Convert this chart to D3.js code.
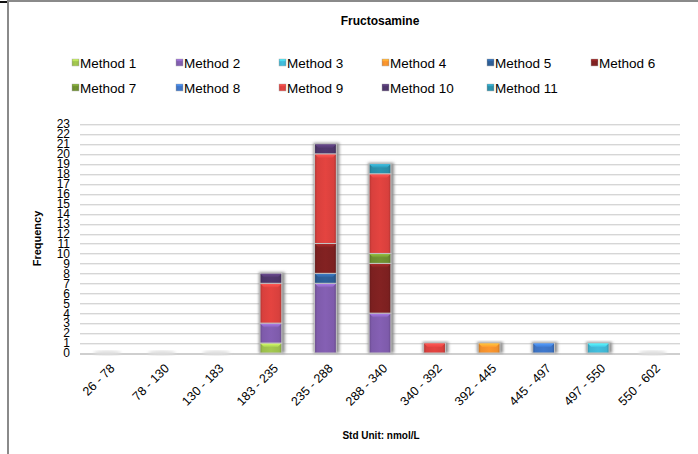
<!DOCTYPE html>
<html>
<head>
<meta charset="utf-8">
<script src="https://cdn.jsdelivr.net/npm/d3@7/dist/d3.min.js"></script>
<style>
  html, body { margin: 0; padding: 0; background: #fff; }
  svg { display: block; font-family: "Liberation Sans", Arial, sans-serif; }
</style>
</head>
<body>
<svg id="chart" width="698" height="454"></svg>
<script>
// Histogram bins (Std Unit: nmol/L)
const categories = ["26 - 78", "78 - 130", "130 - 183", "183 - 235", "235 - 288", "288 - 340",
                    "340 - 392", "392 - 445", "445 - 497", "497 - 550", "550 - 602"];

// Frequency per method in each bin
const method1  = [0, 0, 0, 1, 0, 0, 0, 0, 0, 0, 0];
const method2  = [0, 0, 0, 2, 7, 4, 0, 0, 0, 0, 0];
const method3  = [0, 0, 0, 0, 0, 0, 0, 0, 0, 1, 0];
const method4  = [0, 0, 0, 0, 0, 0, 0, 1, 0, 0, 0];
const method5  = [0, 0, 0, 0, 1, 0, 0, 0, 0, 0, 0];
const method6  = [0, 0, 0, 0, 3, 5, 0, 0, 0, 0, 0];
const method7  = [0, 0, 0, 0, 0, 1, 0, 0, 0, 0, 0];
const method8  = [0, 0, 0, 0, 0, 0, 0, 0, 1, 0, 0];
const method9  = [0, 0, 0, 4, 9, 8, 1, 0, 0, 0, 0];
const method10 = [0, 0, 0, 1, 1, 0, 0, 0, 0, 0, 0];
const method11 = [0, 0, 0, 0, 0, 1, 0, 0, 0, 0, 0];

const methodNames = ["Method 1", "Method 2", "Method 3", "Method 4", "Method 5", "Method 6",
                     "Method 7", "Method 8", "Method 9", "Method 10", "Method 11"];
const methodValues = [method1, method2, method3, method4, method5, method6,
                      method7, method8, method9, method10, method11];
const methodColors = ["#9bbf4c", "#7e5bab", "#3fb5d2", "#f08f2c", "#2c5b92", "#7c2020",
                      "#6b8b2f", "#3c72c2", "#d8403d", "#4c3568", "#2a8ca6"];

const yTicks = d3.range(0, 24);

const svg = d3.select("#chart");
const W = 698, H = 454;
const plot = { left: 80, right: 680, top: 124, bottom: 353 };

// frame lines
svg.append("line").attr("x1", 8).attr("x2", W).attr("y1", 1).attr("y2", 1)
  .attr("stroke", "#8a8a8a").attr("stroke-width", 2);
svg.append("line").attr("x1", 0).attr("x2", 8).attr("y1", 2).attr("y2", 2)
  .attr("stroke", "#111").attr("stroke-width", 2);
svg.append("line").attr("x1", 8).attr("x2", 8).attr("y1", 0).attr("y2", H)
  .attr("stroke", "#8a8a8a").attr("stroke-width", 2);

// table of rows for stacking
const rows = categories.map((c, i) => {
  const r = { category: c };
  methodNames.forEach((m, k) => { r[m] = methodValues[k][i]; });
  return r;
});
const series = d3.stack().keys(methodNames)(rows);

const x = d3.scaleBand().domain(categories)
  .range([plot.left, plot.right]).paddingInner(0.6).paddingOuter(0.3);
const y = d3.scaleLinear().domain([0, 23]).range([plot.bottom, plot.top]);

// gradients for the bevelled look
const defs = svg.append("defs");
methodNames.forEach((m, k) => {
  const c = d3.color(methodColors[k]);
  const g = defs.append("linearGradient").attr("id", "g" + k)
    .attr("x1", "0").attr("x2", "1").attr("y1", "0").attr("y2", "0");
  g.append("stop").attr("offset", "0").attr("stop-color", c.darker(0.6));
  g.append("stop").attr("offset", "0.12").attr("stop-color", c);
  g.append("stop").attr("offset", "0.5").attr("stop-color", c.brighter(0.15));
  g.append("stop").attr("offset", "0.88").attr("stop-color", c);
  g.append("stop").attr("offset", "1").attr("stop-color", c.darker(0.6));
  const t = defs.append("linearGradient").attr("id", "t" + k)
    .attr("x1", "0").attr("x2", "0").attr("y1", "0").attr("y2", "1");
  t.append("stop").attr("offset", "0").attr("stop-color", c.brighter(0.9));
  t.append("stop").attr("offset", "1").attr("stop-color", c.brighter(0.2));
});
const blur = defs.append("filter").attr("id", "shadow")
  .attr("x", "-50%").attr("y", "-10%").attr("width", "200%").attr("height", "120%");
blur.append("feGaussianBlur").attr("stdDeviation", 1.6);

// gridlines
const grid = svg.append("g");
yTicks.forEach(v => {
  grid.append("line").attr("x1", plot.left).attr("x2", plot.right)
    .attr("y1", Math.round(y(v)) + 0.5).attr("y2", Math.round(y(v)) + 0.5)
    .attr("stroke", "#d6d6d6");
  grid.append("line").attr("x1", plot.left).attr("x2", plot.right)
    .attr("y1", Math.round(y(v)) + 1.5).attr("y2", Math.round(y(v)) + 1.5)
    .attr("stroke", "#efefef");
});

// baseline
svg.append("line").attr("x1", plot.left).attr("x2", plot.right)
  .attr("y1", y(0) + 1).attr("y2", y(0) + 1)
  .attr("stroke", "#cfcfcf").attr("stroke-width", 2);

// y axis labels
const yAxis = d3.axisLeft(y).tickValues(yTicks).tickSize(0).tickPadding(0);
const yg = svg.append("g").attr("transform", `translate(${plot.left - 10},0)`).call(yAxis);
yg.select(".domain").remove();
yg.selectAll("text").attr("font-size", 12).attr("fill", "#000")
  .attr("font-family", "'Liberation Sans Narrow', 'Liberation Sans', Arial, sans-serif");

// shadows of empty bins
const totals = rows.map(r => d3.sum(methodNames, m => r[m]));
svg.append("g").selectAll("ellipse")
  .data(categories.filter((c, i) => totals[i] === 0))
  .join("ellipse")
  .attr("cx", c => x(c) + x.bandwidth() / 2)
  .attr("cy", y(0))
  .attr("rx", x.bandwidth() / 2 + 3).attr("ry", 2.5)
  .attr("fill", "#dedede").attr("filter", "url(#shadow)");

// bar shadows
svg.append("g").selectAll("rect")
  .data(categories.filter((c, i) => totals[i] > 0))
  .join("rect")
  .attr("x", c => x(c) - 1)
  .attr("width", x.bandwidth() + 4)
  .attr("y", c => y(totals[categories.indexOf(c)]) - 1)
  .attr("height", c => y(0) - y(totals[categories.indexOf(c)]) + 1)
  .attr("fill", "#8d8d8d").attr("filter", "url(#shadow)");

// stacked segments
const segs = svg.append("g").selectAll("g.s").data(series).join("g").attr("class", "s");
segs.each(function (s, k) {
  const g = d3.select(this);
  const items = s.filter(d => d[1] - d[0] > 0);
  g.selectAll("rect.body").data(items).join("rect").attr("class", "body")
    .attr("x", d => x(d.data.category))
    .attr("width", x.bandwidth())
    .attr("y", d => y(d[1]))
    .attr("height", d => y(d[0]) - y(d[1]))
    .attr("fill", `url(#g${k})`)
    .attr("stroke", "#c4c4c4").attr("stroke-width", 1);
  g.selectAll("path.bevel").data(items).join("path").attr("class", "bevel")
    .attr("d", d => {
      const x0 = x(d.data.category) + 0.5, x1 = x0 + x.bandwidth() - 1;
      const y0 = y(d[1]) + 0.5, b = 3.5;
      return `M${x0},${y0}L${x1},${y0}L${x1 - b},${y0 + b}L${x0 + b},${y0 + b}Z`;
    })
    .attr("fill", `url(#t${k})`);
});

// x axis labels
const xAxis = d3.axisBottom(x).tickSize(0).tickPadding(0);
const xg = svg.append("g").attr("transform", `translate(0,${plot.bottom})`).call(xAxis);
xg.select(".domain").remove();
xg.selectAll("text")
  .attr("font-size", 12.5).attr("fill", "#000")
  .attr("text-anchor", "end")
  .attr("transform", "translate(5,13) rotate(-45)")
  .attr("dy", "0.35em").attr("y", 0).attr("x", 0);

// titles
svg.append("text").attr("x", 380).attr("y", 25).attr("text-anchor", "middle")
  .attr("font-size", 12).attr("font-weight", "bold").text("Fructosamine");
svg.append("text").attr("transform", `translate(41,${(plot.top + plot.bottom) / 2}) rotate(-90)`)
  .attr("text-anchor", "middle").attr("font-size", 11).attr("font-weight", "bold")
  .text("Frequency");
svg.append("text").attr("x", 381).attr("y", 439).attr("text-anchor", "middle")
  .attr("font-size", 10).attr("font-weight", "bold").text("Std Unit: nmol/L");

// legend
const legend = svg.append("g");
const colX = [72, 176, 279, 382, 487, 591];
methodNames.forEach((m, k) => {
  const col = k % 6, row = Math.floor(k / 6);
  const lx = colX[col], ly = row === 0 ? 63 : 88;
  const it = legend.append("g").attr("transform", `translate(${lx},${ly})`);
  it.append("rect").attr("x", 0).attr("y", -4).attr("width", 7).attr("height", 7)
    .attr("fill", `url(#g${k})`).attr("stroke", "#bbb").attr("stroke-width", 0.5);
  it.append("rect").attr("x", 0.5).attr("y", -3.5).attr("width", 6).attr("height", 2)
    .attr("fill", `url(#t${k})`);
  it.append("text").attr("x", 8).attr("y", 0).attr("dy", "0.35em")
    .attr("font-size", 13.5).text(m);
});
</script>
</body>
</html>
